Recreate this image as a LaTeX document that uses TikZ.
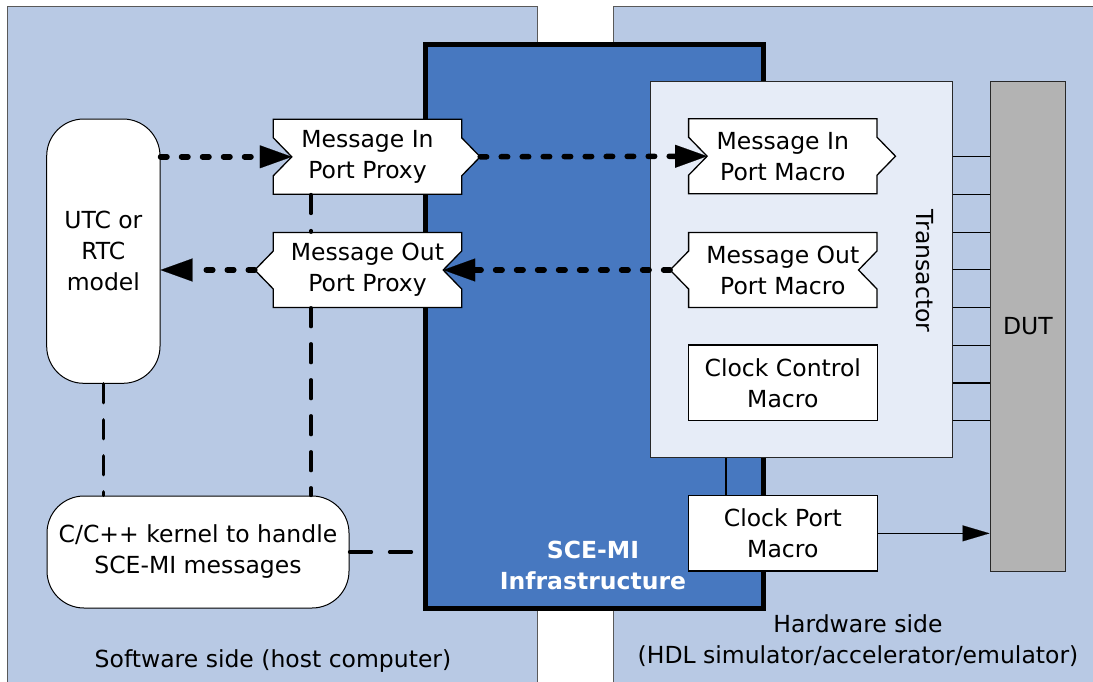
\documentclass[tikz,border=0pt]{standalone}
\usepackage{fontspec}
\setmainfont{DejaVu Sans}
\usetikzlibrary{arrows.meta,calc}
\definecolor{panel}{RGB}{184,201,228}
\definecolor{scemi}{RGB}{71,120,192}
\definecolor{transfill}{RGB}{230,236,247}
\definecolor{dutgray}{RGB}{179,179,179}
\definecolor{edge}{RGB}{40,40,40}
\newcommand\portbox[5]{% #1 sign (+1 in, -1 out), #2 cx, #3 cy, #4 name, #5 text
  \draw[whitebox] ({#2-94.2},{#3-37.5}) -- ({#2+94.2},{#3-37.5}) -- ({#2+94.2},{#3-19})
    -- ({#2+94.2+#1*18.5},{#3}) -- ({#2+94.2},{#3+19}) -- ({#2+94.2},{#3+37.5})
    -- ({#2-94.2},{#3+37.5}) -- ({#2-94.2},{#3+19}) -- ({#2-94.2+#1*18.5},{#3})
    -- ({#2-94.2},{#3-19}) -- cycle;
  \coordinate (#4L) at ({#2-94.2+#1*18.5},{#3});
  \coordinate (#4R) at ({#2+94.2+#1*18.5},{#3});
  \node[porttext] (#4) at (#2,#3) {#5};}
\begin{document}
\begin{tikzpicture}[x=1pt,y=-1pt,
  font=\fontsize{23.5pt}{31pt}\selectfont,
  panelbox/.style={fill=panel,draw=gray!70!black,line width=1pt},
  whitebox/.style={fill=white,draw=black,line width=1.3pt,line join=miter},
  porttext/.style={minimum width=188.4pt,minimum height=75pt,inner sep=0pt,align=center},
  mbox/.style={fill=white,draw=black,line width=1.3pt,minimum width=189pt,inner sep=0pt,align=center},
  roundbox/.style={fill=white,draw=black,line width=1pt,rounded corners=37pt,inner sep=0pt,align=center},
  txt/.style={align=center,inner sep=0pt},
  msgflow/.style={line width=5.5pt,dash pattern=on 6.5pt off 14.5pt,line cap=round,
     -{Triangle[length=32pt,width=23pt,line width=0.1pt]}},
  ctrl/.style={line width=3.2pt,dash pattern=on 19pt off 17pt,line cap=round},
  thinline/.style={line width=1.3pt,draw=black},
]
\clip (0,0) rectangle (1093,681);
\fill[white] (0,0) rectangle (1093,681);
% panels
\draw[panelbox] (7,6) rectangle (537,700);
\draw[panelbox] (613,6) rectangle (1110,700);
% SCE-MI infrastructure
\node[fill=scemi,draw=black,line width=5pt,minimum width=337.5pt,minimum height=563.5pt,inner sep=0pt] (sce) at (594.25,326.25) {};
\node[txt,text=white,font=\fontsize{23.5pt}{31pt}\selectfont\bfseries] (scelabel) at (593,565) {SCE-MI\\Infrastructure};
% transactor and DUT
\node[draw=edge,fill=transfill,line width=1pt,minimum width=301.3pt,minimum height=376pt,inner sep=0pt] (trans) at (801.35,269.7) {};
\node[rotate=-90,inner sep=0pt] (translabel) at (925,271) {Transactor};
\node[draw=edge,fill=dutgray,line width=1pt,minimum width=75.7pt,minimum height=489.3pt,inner sep=0pt] (dut) at (1027.85,326.35) {DUT};
\foreach \y in {156.7,194.3,232.3,269.7,307.7,345.3,383,420.7}
  \draw[thinline] (trans.east |- 0,\y) -- (dut.west |- 0,\y);
% macros
\portbox{1}{782.8}{156.2}{min}{Message In\\Port Macro}
\portbox{-1}{782.8}{270}{mout}{Message Out\\Port Macro}
\node[mbox,minimum height=75.7pt] (ccm) at (782.8,382.85) {Clock Control\\Macro};
\node[mbox,minimum height=75.3pt] (cpm) at (782.8,533.35) {Clock Port\\Macro};
\draw[thinline] ([xshift=-56.8pt]cpm.north) -- ([xshift=-56.8pt]cpm.north |- trans.south);
\draw[thinline,-{Triangle[length=27pt,width=16pt,line width=0.1pt]}] (cpm.east) -- (cpm.east -| dut.west);
% software side
\portbox{1}{367.5}{156.8}{pin}{Message In\\Port Proxy}
\portbox{-1}{367.5}{270}{pout}{Message Out\\Port Proxy}
\node[roundbox,minimum width=113.3pt,minimum height=264.3pt] (utc) at (103.35,251.15) {UTC or\\RTC\\model};
\node[roundbox,minimum width=302pt,minimum height=112pt] (kernel) at (198,552) {C/C++ kernel to handle\\SCE-MI messages};
\coordinate (kend) at (414,552);
% message flows
\draw[msgflow] (utc.east |- pinL) -- (pinL);
\draw[msgflow] (pinR) -- (minL);
\draw[msgflow] (moutL) -- (poutR);
\draw[msgflow] (poutL) -- (utc.east |- poutL);
% control connections
\draw[ctrl] ([xshift=-56.5pt]pin.south) -- ([xshift=-56.5pt]pout.north);
\draw[ctrl] ([xshift=-56.5pt]pout.south) -- ([xshift=-56.5pt]pout.south |- kernel.north);
\draw[ctrl] (utc.south) -- (utc.south |- kernel.north);
\draw[ctrl,dash pattern=on 22pt off 18pt] (kernel.east) -- (kend);
% side labels
\node[txt,anchor=base] (swlabel) at (273,667) {Software side (host computer)};
\node[txt] (hwlabel) at (858,641) {Hardware side\\(HDL simulator/accelerator/emulator)};
\end{tikzpicture}
\end{document}
